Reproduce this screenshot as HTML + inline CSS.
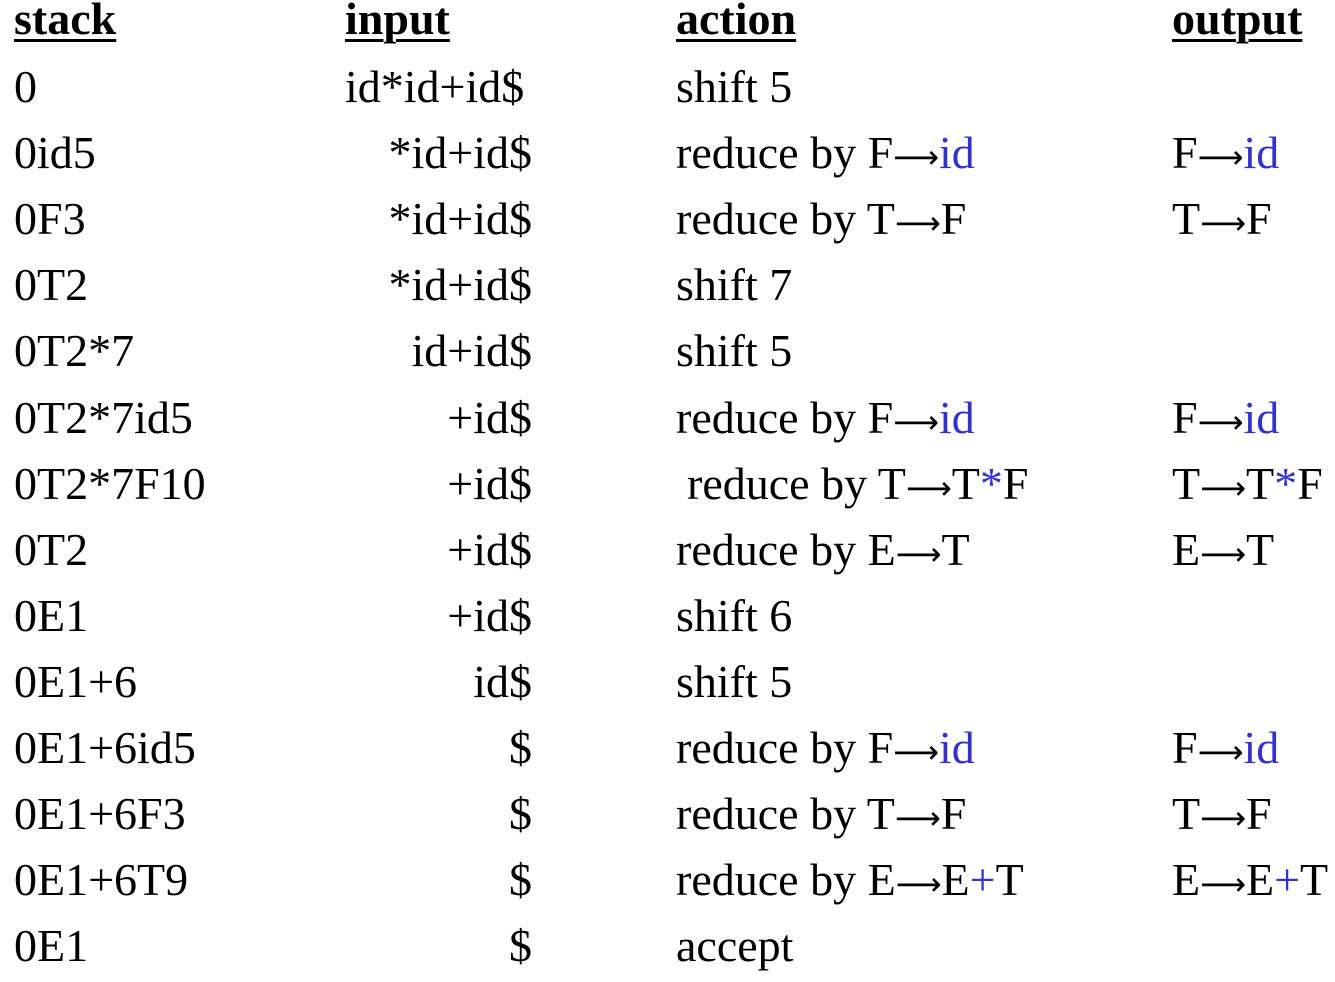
<!DOCTYPE html>
<html><head><meta charset="utf-8">
<style>
html,body{margin:0;padding:0;background:#fff;}
body{width:1335px;height:982px;position:relative;overflow:hidden;font-family:"Liberation Serif","DejaVu Serif",serif;font-size:46px;color:#000;}
.t{position:absolute;white-space:nowrap;line-height:1;}
.h{font-weight:bold;text-decoration:underline;text-decoration-thickness:3px;text-underline-offset:5px;}
.b{color:#3333cc;}
.a{font-family:"DejaVu Sans",sans-serif;font-size:32px;}
</style></head>
<body>
<div id="root"></div>
<script>
const A="<span class='a'>⟶</span>";
const stackCol=["0","0id5","0F3","0T2","0T2*7","0T2*7id5","0T2*7F10","0T2","0E1","0E1+6","0E1+6id5","0E1+6F3","0E1+6T9","0E1"];
const inputCol=["id*id+id$","*id+id$","*id+id$","*id+id$","id+id$","+id$","+id$","+id$","+id$","id$","$","$","$","$"];
const actionCol=["shift 5","reduce by F"+A+"<span class='b'>id</span>","reduce by T"+A+"F","shift 7","shift 5","reduce by F"+A+"<span class='b'>id</span>","reduce by T"+A+"T<span class='b'>*</span>F","reduce by E"+A+"T","shift 6","shift 5","reduce by F"+A+"<span class='b'>id</span>","reduce by T"+A+"F","reduce by E"+A+"E<span class='b'>+</span>T","accept"];
const outputCol=["","F"+A+"<span class='b'>id</span>","T"+A+"F","","","F"+A+"<span class='b'>id</span>","T"+A+"T<span class='b'>*</span>F","E"+A+"T","","","F"+A+"<span class='b'>id</span>","T"+A+"F","E"+A+"E<span class='b'>+</span>T",""];
const root=document.getElementById('root');
function add(html,x,baseline,cls,name,right){
  const d=document.createElement('div');
  d.className='t '+(cls||'');
  d.innerHTML=html;
  
  
  d.style.top=(baseline-40)+'px';
  if(right){d.style.right=(1335-x)+'px';}else{d.style.left=x+'px';}
  root.appendChild(d);
}
add('stack',14,36,'h','stack-header');
add('input',345,36,'h','input-header');
add('action',676,36,'h','action-header');
add('output',1172,36,'h','output-header');
for(let i=0;i<stackCol.length;i++){
  const y=104+i*66.1;
  add(stackCol[i],14,y,'','stack-cell');
  if(i===0) add(inputCol[i],345,y,'','input-cell');
  else add(inputCol[i],532,y,'','input-cell',true);
  add(actionCol[i],i===6?687:676,y,'','action-cell');
  if(outputCol[i]) add(outputCol[i],1172,y,'','output-cell');
}
</script>
</body></html>
